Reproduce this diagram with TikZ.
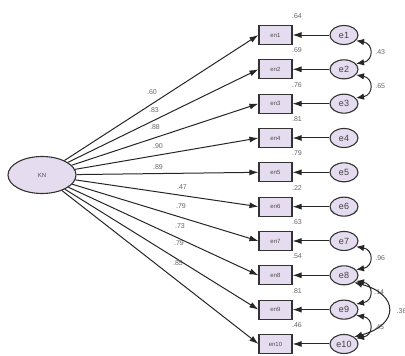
\documentclass[tikz,border=0pt]{standalone}
\usepackage{fontspec}
\setmainfont{Liberation Sans}
\usetikzlibrary{arrows.meta,shapes.geometric}
\definecolor{lav}{HTML}{E6DCF0}
\begin{document}
\begin{tikzpicture}[x=1pt,y=-1pt,
  obs/.style={draw=black!80, fill=lav, minimum width=33pt, minimum height=19pt, inner sep=0pt, line width=1.1pt, font=\fontsize{6}{6}\selectfont, text=black!70},
  err/.style={ellipse, draw=black!80, fill=lav, minimum width=28pt, minimum height=19pt, inner sep=0pt, line width=1.1pt, font=\fontsize{9}{9}\selectfont, text=black!75},
  lat/.style={ellipse, draw=black!80, fill=lav, minimum width=68pt, minimum height=37pt, line width=1.1pt, font=\fontsize{6}{6}\selectfont, text=black!70},
  ld/.style={-{Latex[length=9pt,width=6pt]}, line width=1pt, black!85},
  cov/.style={{Latex[length=8pt,width=6.5pt]}-{Latex[length=8pt,width=6.5pt]}, line width=1pt, black!85},
  lbl/.style={font=\fontsize{7}{7}\selectfont, text=black!60, inner sep=0.5pt}]
\useasboundingbox (0,0) rectangle (405,356);
\node[lat] (kn) at (42,175) {KN};
\foreach \i/\ld/\lx/\ly/\vr in {1/.60/152/92/.64, 2/.83/154/110/.69, 3/.88/155/127/.76, 4/.90/158/146/.81, 5/.89/158/167/.79, 6/.47/182/187/.22, 7/.79/181/206/.63, 8/.73/180/226/.54, 9/.79/179/243/.81, 10/.85/178/263/.46}{
  \pgfmathsetmacro{\yy}{35+34.33*(\i-1)}
  \node[obs] (en\i) at (275.5,\yy) {en\i};
  \node[err] (e\i) at (344,\yy) {e\i};
  \draw[ld] (kn) -- (en\i.west);
  \draw[ld] (e\i) -- (en\i);
  \node[lbl] (l\i) at (\lx,\ly) {\ld};
  \node[lbl] (v\i) at (297,\yy-19) {\vr};
}
\draw[cov] (e1.-25) to[out=-10,in=10,looseness=2] node[lbl,right=5pt] (c12) {.43} (e2.25);
\draw[cov] (e2.-25) to[out=-10,in=10,looseness=2] node[lbl,right=5pt] (c23) {.65} (e3.25);
\draw[cov] (e7.-25) to[out=-10,in=10,looseness=2] node[lbl,right=5pt] (c78) {.96} (e8.25);
\draw[cov] (e8.-25) to[out=-10,in=10,looseness=2] node[lbl,right=4pt] (c89) {.14} (e9.25);
\draw[cov] (e9.-25) to[out=-10,in=10,looseness=2] node[lbl,right=4pt] (c910) {.45} (e10.25);
\draw[cov] (e8.south east) .. controls +(45,12) and +(45,-12) .. (e10.north east);
\node[lbl, anchor=west] (c810) at (396,311) {.36};
\end{tikzpicture}
\end{document}
